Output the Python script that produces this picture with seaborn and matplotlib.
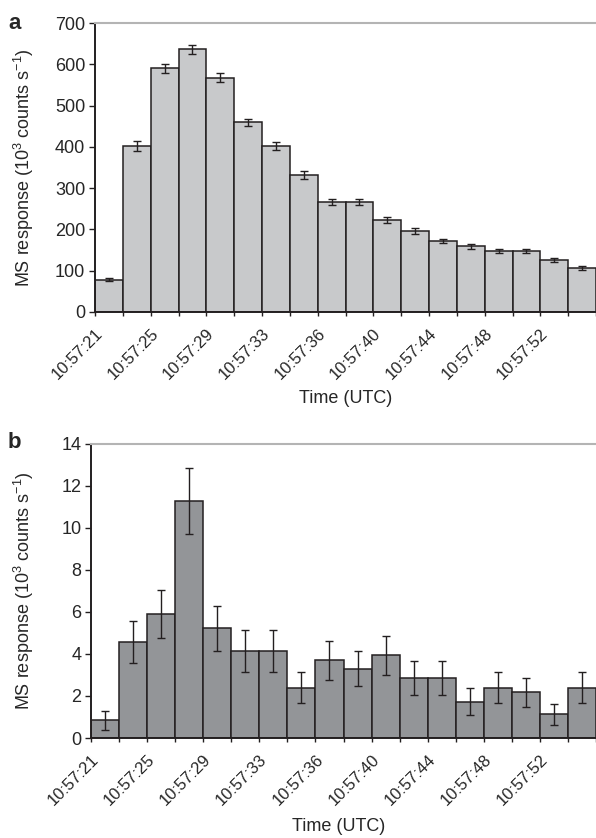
import matplotlib
matplotlib.use("Agg")
import matplotlib.pyplot as plt
import matplotlib.transforms as mtransforms
import seaborn as sns
import pandas as pd
import numpy as np

# === Data ===
bins = [f"b{i:02d}" for i in range(18)]
tick_labels = ["10:57:21", "10:57:25", "10:57:29", "10:57:33", "10:57:36",
               "10:57:40", "10:57:44", "10:57:48", "10:57:52"]

resp_a = [78, 402, 590, 636, 567, 459, 402, 332, 266, 266,
          223, 197, 172, 159, 148, 148, 127, 107]
err_a = [4, 11, 11, 11, 11, 9, 10, 9, 8, 8, 7, 7, 6, 6, 5, 5, 5, 5]

resp_b = [0.85, 4.57, 5.9, 11.3, 5.22, 4.15, 4.15, 2.40, 3.70, 3.30,
          3.93, 2.84, 2.84, 1.72, 2.40, 2.18, 1.12, 2.40]
err_b = [0.45, 1.0, 1.14, 1.57, 1.08, 1.0, 1.0, 0.73, 0.92, 0.84,
         0.94, 0.81, 0.81, 0.64, 0.73, 0.70, 0.48, 0.73]

sns.set_theme(style="ticks")
plt.rcParams["font.family"] = ["Liberation Sans", "DejaVu Sans"]
plt.rcParams["mathtext.fontset"] = "custom"
plt.rcParams["mathtext.rm"] = "Liberation Sans"
plt.rcParams["mathtext.it"] = "Liberation Sans:italic"

fig = plt.figure(figsize=(5.96, 8.38), dpi=100)
ax_a = fig.add_axes([95 / 596, 1 - 312 / 838, 501 / 596, 289 / 838])
ax_b = fig.add_axes([91 / 596, 1 - 738 / 838, 505 / 596, 294 / 838])

panels = [
    (ax_a, resp_a, err_a, "#c8c9cb", 700, 100, -0.118, (0.5, -0.27)),
    (ax_b, resp_b, err_b, "#939598", 14, 2, -0.109, (0.49, -0.272)),
]

for ax, vals, errs, color, ymax, ystep, ylab_x, xlab_xy in panels:
    df = pd.DataFrame({"bin": bins, "resp": vals})
    sns.barplot(data=df, x="bin", y="resp", color=color, saturation=1,
                width=1.0, edgecolor="#231f20", linewidth=1.1,
                errorbar=None, ax=ax)
    ax.errorbar(np.arange(len(vals)), vals, yerr=errs, fmt="none",
                ecolor="#231f20", elinewidth=1.0, capsize=3.2, capthick=1.0)

    ax.set_xlim(-0.5, len(bins) - 0.5)
    ax.set_ylim(0, ymax)
    ax.set_yticks(np.arange(0, ymax + ystep, ystep))
    ax.set_xticks(np.arange(len(bins) + 1) - 0.5)
    labels = []
    for i in range(len(bins) + 1):
        labels.append(tick_labels[i // 2] if i % 2 == 0 and i // 2 < len(tick_labels) else "")
    ax.set_xticklabels(labels, rotation=45, ha="right", va="top",
                       rotation_mode="anchor")
    offset = mtransforms.ScaledTranslation(0.2, 0, fig.dpi_scale_trans)
    for lab in ax.get_xticklabels():
        lab.set_transform(lab.get_transform() + offset)

    ax.tick_params(axis="x", length=3.2, width=1.0, pad=7.0, labelsize=12,
                   color="#231f20")
    ax.tick_params(axis="y", length=4.5, width=1.0, pad=2.5, labelsize=13,
                   color="#231f20")

    for side in ["left", "bottom"]:
        ax.spines[side].set_color("#231f20")
        ax.spines[side].set_linewidth(1.4)
    ax.spines["right"].set_visible(False)
    ax.spines["top"].set_color("#b4b4b4")
    ax.spines["top"].set_linewidth(1.5)

    ax.set_ylabel("MS response (10$^3$ counts s$^{-1}$)", fontsize=13)
    ax.yaxis.set_label_coords(ylab_x, 0.5)
    ax.set_xlabel("Time (UTC)", fontsize=13)
    ax.xaxis.set_label_coords(*xlab_xy)

fig.text(8 / 596, 1 - 29 / 838, "a", fontsize=16, fontweight="bold",
         va="baseline", ha="left")
fig.text(8 / 596, 1 - 448 / 838, "b", fontsize=16, fontweight="bold",
         va="baseline", ha="left")

fig.savefig("out.png", dpi=100)
plt.close(fig)
